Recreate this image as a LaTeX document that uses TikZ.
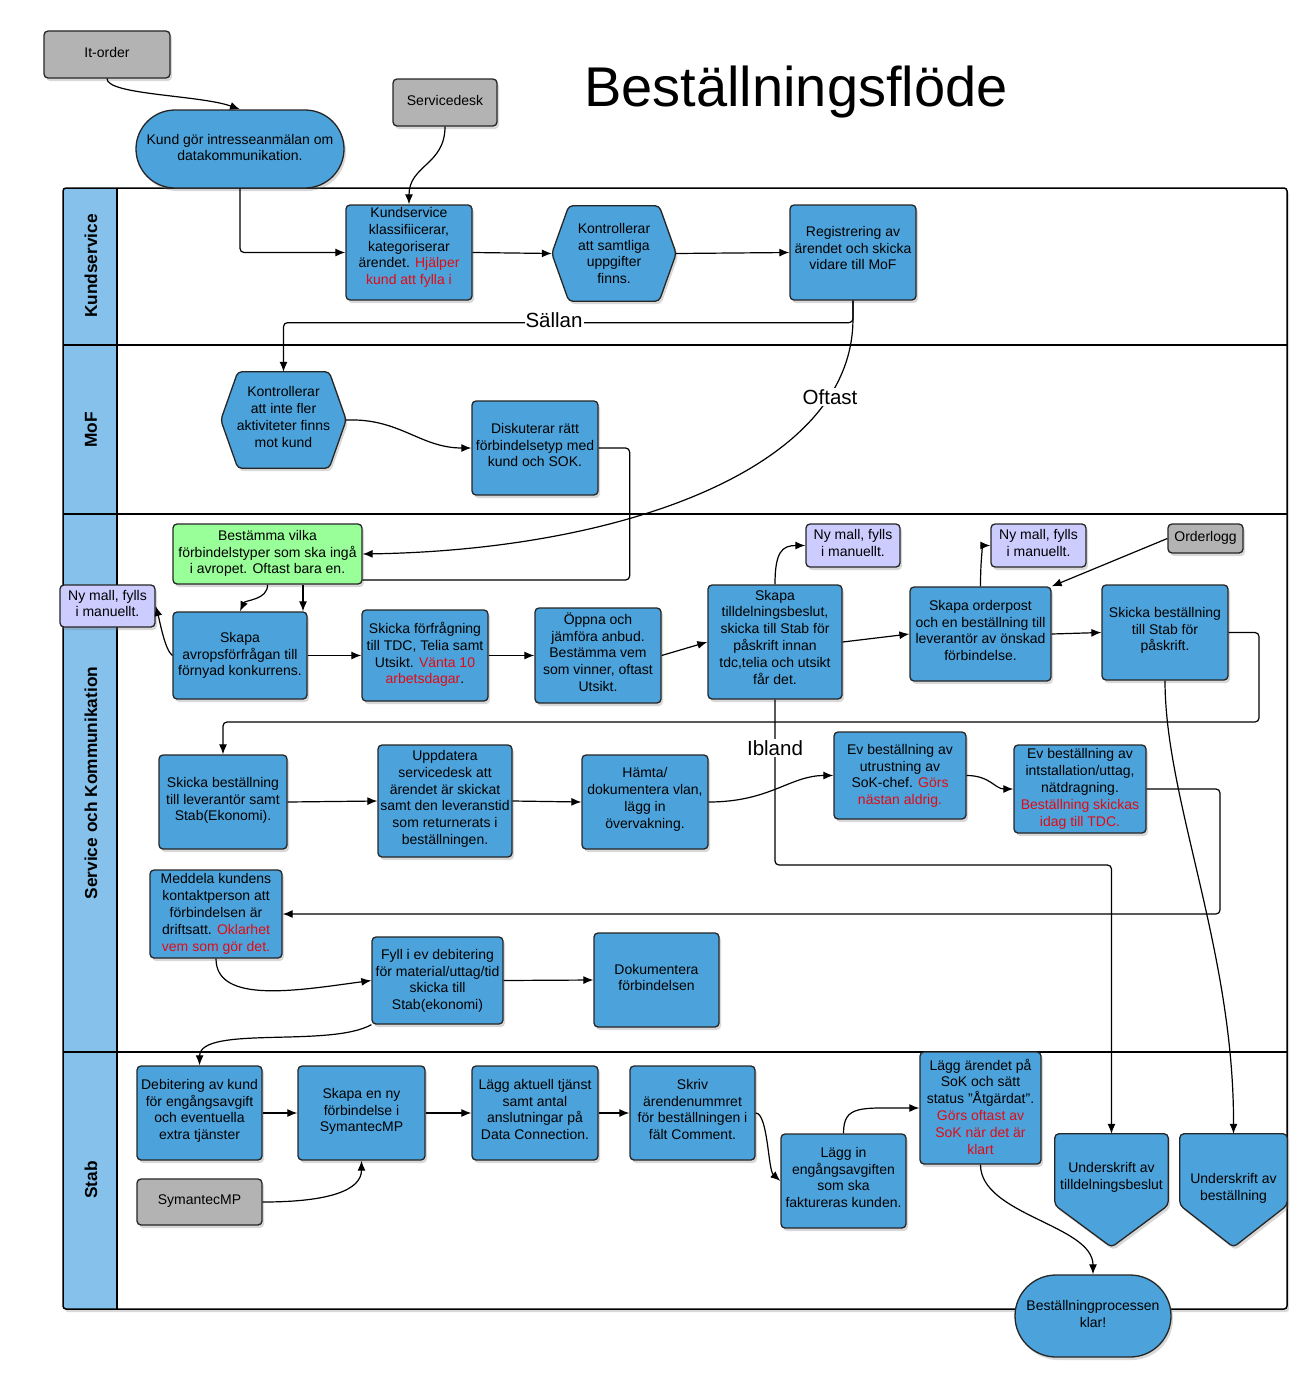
\documentclass[tikz,border=0pt]{standalone}
\usepackage{fontspec}
\setmainfont{Liberation Sans}
\usetikzlibrary{shapes.misc,shadows,arrows.meta,calc}
\definecolor{boxblue}{RGB}{76,163,219}
\definecolor{laneblue}{RGB}{133,193,235}
\definecolor{boxgray}{RGB}{179,179,179}
\definecolor{boxgreen}{RGB}{153,255,153}
\definecolor{boxlav}{RGB}{204,204,255}
\definecolor{redtxt}{RGB}{225,10,20}
\newcommand{\redt}[1]{\textcolor{redtxt}{#1}}
\pgfdeclarelayer{poollayer}
\pgfdeclarelayer{shapelayer}
\pgfsetlayers{poollayer,shapelayer,main}
\begin{document}
\begin{tikzpicture}[x=1pt,y=-1pt,
  every node/.style={font=\fontsize{14}{16.8}\selectfont},
  shad/.style={drop shadow={shadow xshift=2pt,shadow yshift=-3pt,opacity=0.3}},
  basebox/.style={draw=black!85, line width=1.3pt, rounded corners=4pt, align=center, inner sep=1pt, text depth=9pt, shad},
  bluebox/.style={basebox, fill=boxblue},
  graybox/.style={basebox, fill=boxgray, text depth=5pt},
  greenbox/.style={basebox, fill=boxgreen},
  lavbox/.style={basebox, fill=boxlav, text depth=5pt},
  stadium/.style={draw=black!85, line width=1.3pt, fill=boxblue, rounded rectangle, align=center, inner sep=1pt, text depth=3pt, shad},
  holder/.style={align=center, inner sep=1pt},
  shapefill/.style={draw=black!85, line width=1.3pt, fill=boxblue, rounded corners=4pt, shad},
  conn/.style={line width=1.2pt, -{Latex[length=10pt,width=8pt]}, rounded corners=4pt},
  plainline/.style={line width=1.2pt, rounded corners=4pt},
  flowlbl/.style={fill=white, inner sep=1pt, font=\fontsize{20.5}{24}\selectfont},
  lanelbl/.style={rotate=90, font=\fontsize{17.3}{20}\selectfont\bfseries},
]
\useasboundingbox (0,0) rectangle (1310,1381);

% ---------- pool ----------
\begin{pgfonlayer}{poollayer}
  \fill[white, rounded corners=3pt, shad] (63,188) rectangle (1287,1309);
  \fill[laneblue, rounded corners=3pt] (63,188) rectangle (117,1309);
  \draw[line width=1.5pt, rounded corners=3pt] (63,188) rectangle (1287,1309);
  \draw[line width=1.5pt] (117,188) -- (117,1309);
  \draw[line width=2pt] (63,345) -- (1287,345);
  \draw[line width=2pt] (63,514) -- (1287,514);
  \draw[line width=2pt] (63,1052) -- (1287,1052);
\end{pgfonlayer}
\node[lanelbl] (lane1) at (91,266) {Kundservice};
\node[lanelbl] (lane2) at (91,430) {MoF};
\node[lanelbl] (lane3) at (91,783) {Service och Kommunikation};
\node[lanelbl] (lane4) at (91,1180) {Stab};

% ---------- title ----------
\node[font=\fontsize{56}{60}\selectfont] (title) at (796,92) {Beställningsflöde};

% ---------- nodes ----------
\node[graybox, minimum width=126pt, minimum height=47pt] (itorder) at (107,54.5) {It-order};
\node[graybox, minimum width=104pt, minimum height=47pt] (sdesk) at (445,102.5) {Servicedesk};
\node[stadium, minimum width=210pt, minimum height=78pt] (kund) at (240,149) {Kund gör intresseanmälan om\\datakommunikation.};

\node[bluebox, minimum width=126pt, minimum height=95pt, text depth=13pt] (ks) at (409,252.5) {Kundservice\\klassifiicerar,\\kategoriserar\\ärendet. \redt{Hjälper}\\\redt{kund att fylla i}};
\node[holder, minimum width=124pt, minimum height=95pt] (hex1) at (614,253.5) {Kontrollerar\\att samtliga\\uppgifter\\finns.};
\node[bluebox, minimum width=126pt, minimum height=95pt] (reg) at (853,252.5) {Registrering av\\ärendet och skicka\\vidare till MoF};

\node[holder, minimum width=125pt, minimum height=96pt, text depth=6pt] (hexM) at (283.5,420) {Kontrollerar\\att inte fler\\aktiviteter finns\\mot kund};
\node[bluebox, minimum width=126pt, minimum height=94pt, text depth=6pt] (disk) at (535,448) {Diskuterar rätt\\förbindelsetyp med\\kund och SOK.};

\node[greenbox, minimum width=189pt, minimum height=60pt, text depth=4pt] (green) at (267.5,554) {Bestämma vilka\\förbindelstyper som ska ingå\\i avropet. Oftast bara en.};
\node[lavbox, minimum width=95pt, minimum height=42pt] (nym1) at (107.5,606) {Ny mall, fylls\\i manuellt.};
\node[bluebox, minimum width=134pt, minimum height=87pt, text depth=3pt] (avrop) at (240,655.5) {Skapa\\avropsförfrågan till\\förnyad konkurrens.};
\node[bluebox, minimum width=126pt, minimum height=91pt, text depth=5pt] (fraga) at (425,655.5) {Skicka förfrågning\\till TDC, Telia samt\\Utsikt. \redt{Vänta 10}\\\redt{arbetsdagar}.};
\node[bluebox, minimum width=126pt, minimum height=95pt, text depth=7pt] (oppna) at (598,655.5) {Öppna och\\jämföra anbud.\\Bestämma vem\\som vinner, oftast\\Utsikt.};
\node[bluebox, minimum width=134pt, minimum height=114pt, text depth=10pt] (tilldel) at (775,642) {Skapa\\tilldelningsbeslut,\\skicka till Stab för\\påskrift innan\\tdc,telia och utsikt\\får det.};
\node[lavbox, minimum width=94pt, minimum height=43pt] (nym2) at (853,545.5) {Ny mall, fylls\\i manuellt.};
\node[bluebox, minimum width=141pt, minimum height=94pt, text depth=7pt] (order) at (980.5,634) {Skapa orderpost\\och en beställning till\\leverantör av önskad\\förbindelse.};
\node[lavbox, minimum width=95pt, minimum height=43pt] (nym3) at (1038.5,545.5) {Ny mall, fylls\\i manuellt.};
\node[graybox, minimum width=75pt, minimum height=29pt] (ologg) at (1205.5,538.5) {Orderlogg};
\node[bluebox, minimum width=126pt, minimum height=95pt, text depth=7pt] (stabbst) at (1165,632.5) {Skicka beställning\\till Stab för\\påskrift.};

\node[bluebox, minimum width=128pt, minimum height=94pt, text depth=6pt] (levbst) at (223,802) {Skicka beställning\\till leverantör samt\\Stab(Ekonomi).};
\node[bluebox, minimum width=134pt, minimum height=112pt, text depth=7pt] (uppd) at (445,801) {Uppdatera\\servicedesk att\\ärendet är skickat\\samt den leveranstid\\som returnerats i\\beställningen.};
\node[bluebox, minimum width=126pt, minimum height=94pt, text depth=8pt] (hamta) at (645,802) {Hämta/\\dokumentera vlan,\\lägg in\\övervakning.};
\node[bluebox, minimum width=132pt, minimum height=87pt, text depth=2pt] (ev1) at (900,775.5) {Ev beställning av\\utrustning av\\SoK-chef. \redt{Görs}\\\redt{nästan aldrig.}};
\node[bluebox, minimum width=132pt, minimum height=88pt, text depth=3pt] (ev2) at (1080,789) {Ev beställning av\\intstallation/uttag,\\nätdragning.\\\redt{Beställning skickas}\\\redt{idag till TDC.}};

\node[bluebox, minimum width=132pt, minimum height=88pt, text depth=3pt] (medd) at (216,914) {Meddela kundens\\kontaktperson att\\förbindelsen är\\driftsatt. \redt{Oklarhet}\\\redt{vem som gör det.}};
\node[bluebox, minimum width=131pt, minimum height=87pt, text depth=2pt] (fyll) at (437.5,980.5) {Fyll i ev debitering\\för material/uttag/tid\\skicka till\\Stab(ekonomi)};
\node[bluebox, minimum width=125pt, minimum height=94pt, text depth=5pt] (dok) at (656.5,980) {Dokumentera\\förbindelsen};

\node[bluebox, minimum width=125pt, minimum height=94pt, text depth=7pt] (debit) at (199.5,1113) {Debitering av kund\\för engångsavgift\\och eventuella\\extra tjänster};
\node[bluebox, minimum width=127pt, minimum height=94pt, text depth=6pt] (skapany) at (361.5,1113) {Skapa en ny\\förbindelse i\\SymantecMP};
\node[bluebox, minimum width=126pt, minimum height=94pt, text depth=7pt] (lagga) at (535,1113) {Lägg aktuell tjänst\\samt antal\\anslutningar på\\Data Connection.};
\node[bluebox, minimum width=125pt, minimum height=94pt, text depth=7pt] (skriv) at (692.5,1113) {Skriv\\ärendenummret\\för beställningen i\\fält Comment.};
\node[graybox, minimum width=125pt, minimum height=46pt] (symmp) at (199.5,1202) {SymantecMP};
\node[bluebox, minimum width=125pt, minimum height=94pt, text depth=7pt] (laggin) at (843.5,1181) {Lägg in\\engångsavgiften\\som ska\\faktureras kunden.};
\node[bluebox, minimum width=121pt, minimum height=112pt, text depth=3pt] (laggar) at (980.5,1108) {Lägg ärendet på\\SoK och sätt\\status "Åtgärdat".\\\redt{Görs oftast av}\\\redt{SoK när det är}\\\redt{klart}};

\node[holder, minimum width=113pt, minimum height=113pt] (und1) at (1111.5,1190.5) {};
\node[holder, minimum width=107pt, minimum height=113pt] (und2) at (1233.5,1190.5) {};
\node[holder] (und1t) at (1111.5,1177.5) {Underskrift av\\tilldelningsbeslut};
\node[holder] (und2t) at (1233.5,1188.5) {Underskrift av\\beställning};

\node[stadium, minimum width=158pt, minimum height=82pt, text depth=4pt] (klar) at (1093,1316) {Beställningprocessen\\klar!};

% ---------- drawn shapes ----------
\begin{pgfonlayer}{shapelayer}
  \draw[shapefill] (hex1.west) -- ([xshift=17pt]hex1.north west) -- ([xshift=-17pt]hex1.north east) -- (hex1.east) -- ([xshift=-17pt]hex1.south east) -- ([xshift=17pt]hex1.south west) -- cycle;
  \draw[shapefill] (hexM.west) -- ([xshift=17pt]hexM.north west) -- ([xshift=-17pt]hexM.north east) -- (hexM.east) -- ([xshift=-17pt]hexM.south east) -- ([xshift=17pt]hexM.south west) -- cycle;
  \draw[shapefill] (und1.north west) -- (und1.north east) -- ([yshift=42pt]und1.south east) -- (und1.south) -- ([yshift=42pt]und1.south west) -- cycle;
  \draw[shapefill] (und2.north west) -- (und2.north east) -- ([yshift=42pt]und2.south east) -- (und2.south) -- ([yshift=42pt]und2.south west) -- cycle;
\end{pgfonlayer}

% ---------- helper coordinates ----------
\coordinate (c1) at (1259,722);
\coordinate (c2) at (775,865);
\coordinate (c3) at (1220,914);

% ---------- connectors ----------
\draw[conn] (itorder.south) .. controls (107,95) and (200,95) .. (kund.north);
\draw[conn] (sdesk.south) .. controls (445,165) and (409,165) .. (ks.north);
\draw[conn] (kund.south) |- (ks.west);
\draw[conn] (ks.east) -- (hex1.west);
\draw[conn] (hex1.east) -- (reg.west);
\draw[conn] (reg.south) -- ++(0,22) -| (hexM.north);
\draw[conn] (reg.south) -- ++(0,20) .. controls (847,470) and (620,550) .. (green.east);
\draw[conn] (hexM.east) .. controls (400,418) and (420,448) .. (disk.west);
\draw[plainline] (disk.east) -- ++(31,0) |- ($(green.east)+(0,26)$);
\draw[conn] (green.south) .. controls (268,600) and (245,600) .. (avrop.north);
\draw[conn] ([xshift=35.5pt]green.south) -- ([xshift=35.5pt]green.south |- avrop.north);
\draw[conn] (avrop.west) .. controls (165,650) and (160,622) .. (nym1.east);
\draw[conn] (avrop.east) -- (fraga.west);
\draw[conn] (fraga.east) -- (oppna.west);
\draw[conn] (oppna.east) -- (tilldel.west);
\draw[conn] (tilldel.north) .. controls (775,552) and (782,545.5) .. (nym2.west);
\draw[conn] (tilldel.east) -- (order.west);
\draw[conn] (order.north) .. controls (980.5,552) and (984,545.5) .. (nym3.west);
\draw[conn] (ologg.west) -- (order.north east);
\draw[conn] (order.east) -- (stabbst.west);
\draw[conn] (stabbst.east) -| (c1) -| (levbst.north);
\draw[conn] (stabbst.south) .. controls (1165,800) and (1234,950) .. (und2.north);
\draw[conn] (tilldel.south) -- (c2) -| (und1.north);
\draw[conn] (levbst.east) -- (uppd.west);
\draw[conn] (uppd.east) -- (hamta.west);
\draw[conn] (hamta.east) .. controls (770,802) and (790,775.5) .. (ev1.west);
\draw[conn] (ev1.east) .. controls (990,775.5) and (995,789) .. (ev2.west);
\draw[conn] (ev2.east) -| (c3) -- (medd.east);
\draw[conn] (medd.south) .. controls (216,1005) and (300,990) .. (fyll.west);
\draw[conn] (fyll.east) -- (dok.west);
\draw[conn] (fyll.south west) .. controls (330,1048) and (200,1025) .. (debit.north);
\draw[conn] (debit.east) -- (skapany.west);
\draw[conn] (skapany.east) -- (lagga.west);
\draw[conn] (lagga.east) -- (skriv.west);
\draw[conn] (symmp.east) .. controls (330,1202) and (361.5,1190) .. (skapany.south);
\draw[conn] (skriv.east) .. controls (768,1113) and (768,1170) .. (laggin.west);
\draw[conn] (laggin.north) .. controls (843.5,1105) and (860,1108) .. (laggar.west);
\draw[conn] (laggar.south) .. controls (980.5,1215) and (1093,1225) .. (klar.north);

% ---------- flow labels ----------
\node[flowlbl] (sallan) at (554,320) {Sällan};
\node[flowlbl] (oftast) at (830,397) {Oftast};
\node[flowlbl] (ibland) at (775,748) {Ibland};
\end{tikzpicture}
\end{document}
